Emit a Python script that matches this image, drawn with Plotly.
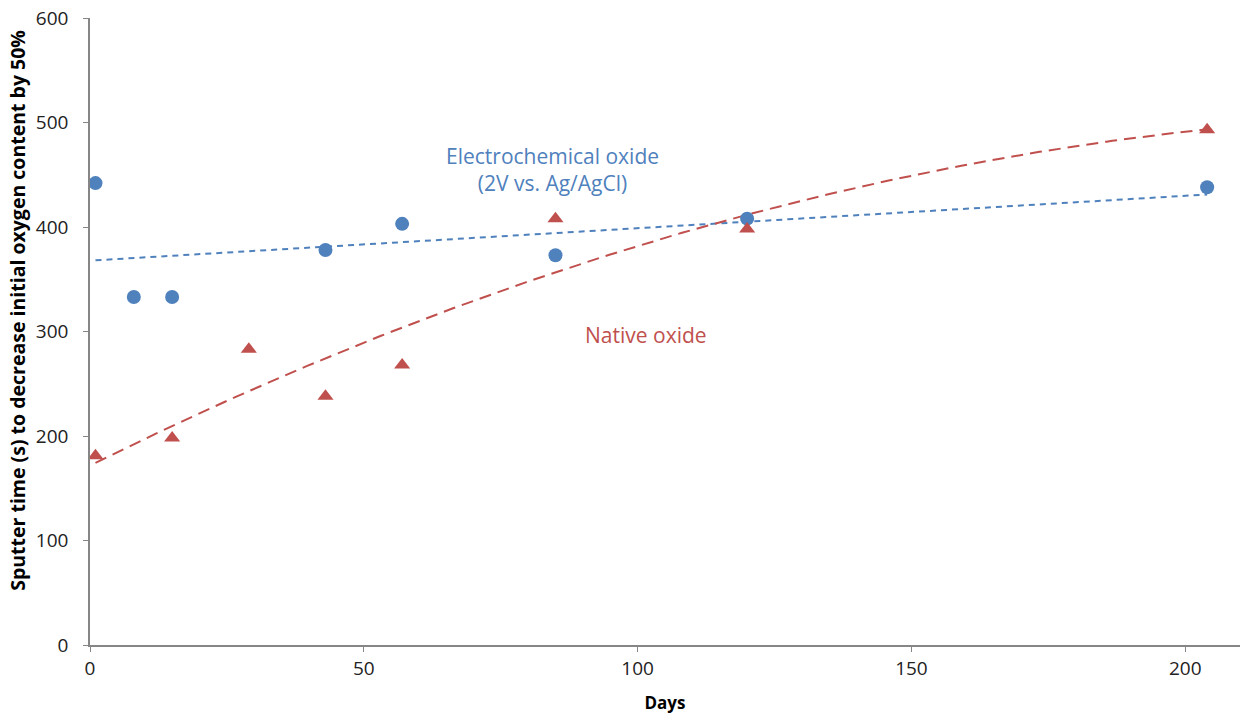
import numpy as np
import plotly.graph_objects as go

# Data
days_electro = [1, 8, 15, 43, 57, 85, 120, 204]
time_electro = [442, 333, 333, 378, 403, 373, 408, 438]
days_native = [1, 15, 29, 43, 57, 85, 120, 204]
time_native = [181, 198, 283, 238, 268, 408, 398, 493]

BLUE = "#4F81BD"
RED = "#C0504D"
FONT = "Open Sans"

# Excel-style trendlines fitted to the data
xe = np.linspace(min(days_electro), max(days_electro), 100)
ye = np.polyval(np.polyfit(days_electro, time_electro, 1), xe)
xn = np.linspace(min(days_native), max(days_native), 200)
yn = np.polyval(np.polyfit(days_native, time_native, 2), xn)

fig = go.Figure()
fig.add_trace(go.Scatter(x=xe, y=ye, mode="lines",
                         line=dict(color=BLUE, width=2, dash="6px,5px"),
                         hoverinfo="skip", showlegend=False))
fig.add_trace(go.Scatter(x=xn, y=yn, mode="lines",
                         line=dict(color=RED, width=2, dash="12px,7px"),
                         hoverinfo="skip", showlegend=False))
fig.add_trace(go.Scatter(x=days_electro, y=time_electro, mode="markers",
                         marker=dict(symbol="circle", size=14, color=BLUE),
                         name="Electrochemical oxide", showlegend=False))
fig.add_trace(go.Scatter(x=days_native, y=time_native, mode="markers",
                         marker=dict(symbol="triangle-up", size=14, color=RED),
                         name="Native oxide", showlegend=False))

fig.add_annotation(x=84.5, y=455, text="Electrochemical oxide<br>(2V vs. Ag/AgCl)",
                   showarrow=False, font=dict(family=FONT, size=21, color=BLUE),
                   align="center")
fig.add_annotation(x=101.5, y=297, text="Native oxide", showarrow=False,
                   font=dict(family=FONT, size=21, color=RED))

# y-axis title (placed like Excel, slightly above centre)
fig.add_annotation(xref="paper", yref="paper", x=0, y=0.533, xshift=-72,
                   xanchor="center", yanchor="middle",
                   text="<b>Sputter time (s) to decrease initial oxygen content by 50%</b>",
                   textangle=-90, showarrow=False,
                   font=dict(family=FONT, size=19.5, color="black"))

axis_common = dict(showline=True, linecolor="#868686", linewidth=1.5,
                   showgrid=False, zeroline=False, ticks="outside",
                   ticklen=5, tickcolor="#868686", automargin=False,
                   ticklabeloverflow="allow",
                   tickfont=dict(family=FONT, size=19, color="#222222"))

fig.update_xaxes(range=[0, 210], tickvals=[0, 50, 100, 150, 200],
                 ticklabelstandoff=0,
                 title=dict(text="<b>Days</b>", font=dict(family=FONT, size=17, color="black"),
                            standoff=18),
                 **axis_common)
fig.update_yaxes(range=[0, 600], tickvals=[0, 100, 200, 300, 400, 500, 600],
                 ticklabelstandoff=11,
                 **axis_common)

fig.update_layout(width=1242, height=724, plot_bgcolor="white", paper_bgcolor="white",
                  margin=dict(l=90, r=2, t=18, b=79), showlegend=False)

# remove the default page margin so the figure sits at the window's corner
fig.write_html("out.html", config={"displayModeBar": False},
               post_script="document.body.style.margin='0';document.body.style.overflow='hidden';")
